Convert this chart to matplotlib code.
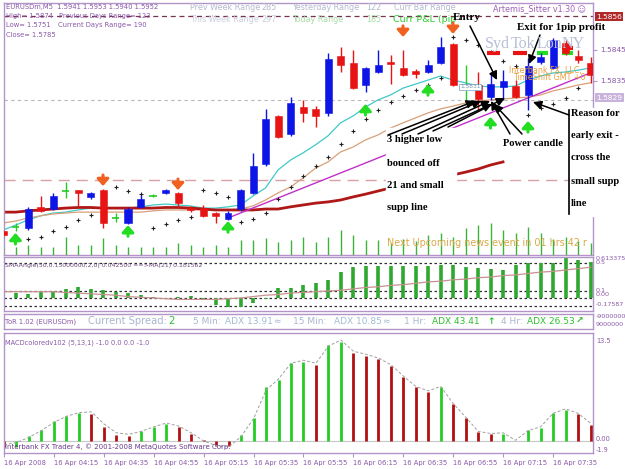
import matplotlib
matplotlib.use('Agg')
import matplotlib.pyplot as plt
import numpy as np
from matplotlib.patches import Rectangle

W, H = 625, 469

# ---------------- data ----------------
opens = [1.57866, 1.57879, 1.57876, 1.57944, 1.57937, 1.57995, 1.57998, 1.57976, 1.57998, 1.57908,
         1.57892, 1.57944, 1.57979, 1.57989, 1.57989, 1.57940, 1.57940, 1.57924, 1.57905, 1.57937,
         1.57989, 1.58082, 1.58237, 1.58179, 1.58266, 1.58260, 1.58247, 1.58431, 1.58408, 1.58337,
         1.58379, 1.58411, 1.58392, 1.58382, 1.58379, 1.58408, 1.58469, 1.58337, 1.58337, 1.58298,
         1.58331, 1.58334, 1.58305, 1.58411, 1.58392, 1.58473, 1.58431, 1.58408]
highs = [1.57873, 1.57892, 1.57944, 1.57979, 1.57989, 1.58024, 1.57998, 1.57992, 1.58000, 1.57924,
         1.57944, 1.57982, 1.57985, 1.58000, 1.57992, 1.57947, 1.57950, 1.57927, 1.57931, 1.58002,
         1.58118, 1.58260, 1.58240, 1.58298, 1.58289, 1.58269, 1.58440, 1.58460, 1.58450, 1.58395,
         1.58450, 1.58434, 1.58450, 1.58389, 1.58418, 1.58492, 1.58473, 1.58402, 1.58379, 1.58379,
         1.58385, 1.58353, 1.58424, 1.58440, 1.58489, 1.58482, 1.58450, 1.58427]
lows = [1.57844, 1.57866, 1.57869, 1.57927, 1.57934, 1.57973, 1.57944, 1.57969, 1.57876, 1.57895,
        1.57889, 1.57940, 1.57976, 1.57987, 1.57944, 1.57927, 1.57911, 1.57892, 1.57902, 1.57931,
        1.57985, 1.58076, 1.58166, 1.58173, 1.58218, 1.58202, 1.58237, 1.58379, 1.58324, 1.58315,
        1.58376, 1.58340, 1.58366, 1.58360, 1.58376, 1.58405, 1.58334, 1.58289, 1.58256, 1.58289,
        1.58289, 1.58295, 1.58256, 1.58405, 1.58389, 1.58434, 1.58408, 1.58344]
closes = [1.57853, 1.57879, 1.57937, 1.57931, 1.57979, 1.57995, 1.57989, 1.57989, 1.57892, 1.57908,
          1.57937, 1.57969, 1.57979, 1.57998, 1.57956, 1.57934, 1.57915, 1.57915, 1.57924, 1.57998,
          1.58076, 1.58227, 1.58169, 1.58279, 1.58247, 1.58237, 1.58421, 1.58402, 1.58327, 1.58392,
          1.58402, 1.58405, 1.58369, 1.58373, 1.58402, 1.58460, 1.58337, 1.58337, 1.58292, 1.58340,
          1.58350, 1.58298, 1.58398, 1.58427, 1.58482, 1.58440, 1.58418, 1.58369]

# moving averages, in pips above 1.5800
ma_fast = [-13.1, -11.5, -9.8, -8.5, -7.6, -7.3, -6.6, -6.0, -6.0, -6.0, -6.0, -5.6, -5.0, -4.7, -5.0, -5.3,
           -6.0, -6.0, -5.6, -5.0, -2.1, 0.5, 6.3, 9.5, 11.8, 14.4, 17.3, 21.5, 23.7, 26.6, 28.9, 30.5,
           32.7, 34.0, 35.3, 36.6, 35.3, 34.4, 33.4, 33.1, 33.1, 33.4, 35.3, 36.6, 37.6, 37.9, 38.5, 39.2]
ma_mid = [-10.8, -10.2, -9.2, -8.5, -7.9, -7.6, -7.3, -7.3, -7.3, -7.3, -7.3, -7.3, -6.9, -6.6, -6.6, -6.6,
          -6.6, -6.6, -6.6, -6.3, -5.3, -3.4, -1.1, 0.8, 3.7, 6.9, 8.9, 12.1, 13.7, 16.0, 17.6, 19.8,
          21.5, 23.1, 24.7, 26.0, 26.9, 27.9, 28.5, 28.9, 29.2, 29.5, 29.8, 30.5, 31.8, 32.7, 33.7, 34.4]
ma_slow = [-7.3, -7.3, -6.9, -6.6, -6.3, -6.0, -5.8, -5.8, -6.0, -6.0, -6.0, -6.0, -6.0, -5.8, -5.8, -6.0,
           -6.3, -6.6, -6.6, -6.6, -6.6, -6.3, -6.3, -5.6, -5.0, -4.4, -4.0, -3.4, -2.4, -1.5, -0.5, 0.5,
           1.1, 1.8, 2.7, 3.7, 4.7, 5.6, 6.6, 7.9, 8.9, np.nan, np.nan, np.nan, np.nan, np.nan, np.nan, np.nan]
psar = [np.nan, np.nan, -16.0, -15.3, -13.4, -12.1, -9.8, -8.2, np.nan, 0.8, -0.5, -1.5, -12.4, -11.1, -9.8, -8.9,
        -0.2, -1.1, -2.4, -10.5, -9.5, -7.6, -3.1, 0.8, 4.4, 7.6, 10.5, 14.7, 18.9, 22.7, 25.6, 28.2,
        30.2, 32.1, 33.7, 36.0, 49.2, 48.2, 46.6, 44.4, 41.5, 39.8, 24.0, 26.3, 27.6, 29.5, 32.7, np.nan]
volume = [8, 8, 10, 8, 8, 18, 10, 10, 17, 10, 8, 8, 8, 8, 12, 10, 8, 10, 8, 15, 15, 17, 13, 15,
          18, 13, 18, 25, 20, 15, 15, 12, 16, 14, 20, 22, 18, 27, 30, 32, 25, 22, 28, 22, 16, 18, 14, 12]

trend_bars = [18, 47]
trend_pips = [-9.2, 37.6]
up_arrow_bars = [1, 10, 18, 29, 34, 39, 42]
up_arrow_pips = [-14.0, -11.5, -10.2, 27.6, 34.0, 23.4, 22.1]
down_arrow_bars = [8, 14, 32, 36]
down_arrow_pips = [1.1, -0.2, 49.2, 50.2]
high_line = 1.5856
bid_line = 1.5829
pink_line = 1.58031

sma_angle = [0.09, 0.07, 0.06, 0.09, 0.10, 0.13, 0.16, 0.13, 0.11, 0.09, 0.07, 0.04, 0.01, -0.01, 0.01, 0.03,
             -0.01, -0.10, -0.13, -0.13, -0.07, -0.01, 0.14, 0.14, 0.19, 0.21, 0.26, 0.37, 0.44, 0.46, 0.46, 0.46,
             0.46, 0.46, 0.46, 0.47, 0.47, 0.44, 0.43, 0.41, 0.40, 0.47, 0.50, 0.50, 0.50, 0.57, 0.54, 0.51]
sma_ma = [0.09, 0.09, 0.09, 0.09, 0.09, 0.08, 0.07, 0.06, 0.05, 0.04, 0.02, 0.01, 0.0, -0.01, -0.02, -0.02,
          -0.02, -0.02, -0.01, 0.0, 0.02, 0.04, 0.05, 0.07, 0.08, 0.09, 0.10, 0.11, 0.13, 0.15, 0.16, 0.18,
          0.19, 0.21, 0.23, 0.24, 0.26, 0.27, 0.29, 0.30, 0.32, 0.33, 0.35, 0.37, 0.38, 0.40, 0.42, 0.44]
sma_levels = [0.5, 0.1, 0.0, -0.12]

macd = [-0.8, -0.8, 0.7, 1.5, 2.7, 3.4, 3.7, 3.65, 1.9, 0.8, 0.7, 1.4, 1.9, 2.3, 1.9, 1.0,
        0.1, -0.6, -0.7, 0.8, 3.1, 7.2, 8.1, 10.4, 10.5, 10.1, 12.8, 13.3, 11.7, 11.4, 10.9, 10.0,
        8.5, 7.2, 6.6, 7.2, 4.9, 3.1, 1.2, 0.9, 1.0, 0.05, 1.5, 1.8, 3.8, 4.1, 3.6, 2.2]
macd_up = [0, 1, 1, 1, 1, 1, 1, 0, 0, 0, 0, 1, 1, 1, 0, 0, 0, 0, 0, 1, 1, 1, 1, 1,
           1, 0, 1, 1, 0, 0, 0, 0, 0, 0, 0, 1, 0, 0, 0, 0, 1, 0, 1, 1, 1, 1, 0, 0]
macd_signal = [-0.5, -0.2, 0.5, 1.4, 2.5, 3.3, 3.8, 3.9, 2.3, 1.1, 0.9, 1.3, 1.9, 2.4, 2.0, 1.1,
               0.0, -0.6, -0.8, 0.6, 3.0, 6.8, 8.3, 10.4, 10.8, 10.4, 12.7, 13.5, 12.0, 11.6, 11.1, 10.2,
               8.7, 7.3, 6.7, 7.3, 5.0, 3.2, 1.3, 1.0, 1.1, 0.1, 1.4, 1.9, 3.7, 4.3, 3.7, 2.4]

time_labels = ['16 Apr 2008', '16 Apr 04:15', '16 Apr 04:35', '16 Apr 04:55', '16 Apr 05:15', '16 Apr 05:35',
               '16 Apr 05:55', '16 Apr 06:15', '16 Apr 06:35', '16 Apr 06:55', '16 Apr 07:15', '16 Apr 07:35']

# ---------------- figure ----------------
FRAME = '#b394c9'
PURP = '#8a58a8'

def rect(x0, y0, x1, y1):
    return [x0 / W, 1 - y1 / H, (x1 - x0) / W, (y1 - y0) / H]

def pip(v):
    return 1.58 + np.array(v, dtype=float) / 10000.0

fig = plt.figure(figsize=(W / 100, H / 100), dpi=100)
fig.patch.set_facecolor('white')

x = np.arange(len(opens))
XL = (0.08, 47.2)

ax = fig.add_axes(rect(4, 3, 593, 255))
ax_v = ax.twinx()
ax_s = fig.add_axes(rect(4, 257, 593, 311))
ax_t = fig.add_axes(rect(4, 314, 593, 329))
ax_m = fig.add_axes(rect(4, 333, 593, 453))

for a in (ax, ax_s, ax_t, ax_m):
    a.set_xlim(*XL)
    for sp in a.spines.values():
        sp.set_color(FRAME)
        sp.set_linewidth(1)
    a.set_xticks([])
    a.set_yticks([])

# ---- main price panel ----
ax.set_ylim(1.577887, 1.586016)
ax.axhline(high_line, color='#7a3050', lw=0.9, ls=(0, (4, 3)), zorder=1)
ax.axhline(bid_line, color='#b8b8b8', lw=0.8, ls=(0, (3, 3)), zorder=1)
ax.axhline(pink_line, color='#d9a0a8', lw=1.0, ls=(0, (8, 5)), zorder=1)

ax.plot(x, pip(ma_fast), color='#40c8c8', lw=0.9, zorder=2)
ax.plot(x, pip(ma_mid), color='#d8a078', lw=0.9, zorder=2)
ax.plot(x, pip(ma_slow), color='#b01818', lw=2.0, zorder=2)
ax.plot(trend_bars, pip(trend_pips), color='#c030c8', lw=1.0, zorder=2)
ax.plot(x, pip(psar), ls='none', marker='+', ms=2.5, mew=0.8, color='#202020', zorder=3)

for i in x:
    o, h, l, c = opens[i], highs[i], lows[i], closes[i]
    if c > o:
        col = '#0c14e6'
    elif c < o:
        col = '#e81414'
    else:
        col = '#22cc22'
    ax.vlines(i, l, h, color=col, lw=1, zorder=4)
    if c == o:
        ax.hlines(o, i - 0.3, i + 0.3, color=col, lw=1.2, zorder=4)
    else:
        ax.bar(i, c - o, bottom=o, width=0.56, color=col, edgecolor=col, lw=0.4, zorder=5)

for b, p in zip(up_arrow_bars, up_arrow_pips):
    ax.annotate('', xy=(b, pip(p)), xytext=(0, -8), textcoords='offset points',
                arrowprops=dict(arrowstyle='-|>,head_width=0.35,head_length=0.4', color='#22dd22',
                                lw=2.2, shrinkA=0, shrinkB=0), zorder=6)
for b, p in zip(down_arrow_bars, down_arrow_pips):
    ax.annotate('', xy=(b, pip(p)), xytext=(0, 8), textcoords='offset points',
                arrowprops=dict(arrowstyle='-|>,head_width=0.35,head_length=0.4', color='#f06020',
                                lw=2.2, shrinkA=0, shrinkB=0), zorder=6)

# session bars
ax.hlines(pip([44.0, 44.0]), [38.7, 40.8], [39.8, 41.9], color='#e81414', lw=3, zorder=3)
ax.hlines(pip([44.0, 44.0]), [42.7, 44.7], [43.6, 45.6], color='#22dd22', lw=3, zorder=3)
ax.hlines(pip([45.5]), [44.7], [45.6], color='#e81414', lw=3, zorder=3)

ax.yaxis.tick_right()
ax.set_yticks([1.5835, 1.5845])
ax.set_yticklabels(['1.5835', '1.5845'])
ax.tick_params(axis='y', left=False, labelleft=False, right=True, labelright=True,
               colors=FRAME, labelcolor=PURP, labelsize=5.4, length=3, width=0.8, pad=2)

ax_v.set_ylim(0, 252)
ax_v.vlines(x, 0, volume, color='#3cb43c', lw=1)
ax_v.set_yticks([])
for sp in ax_v.spines.values():
    sp.set_visible(False)

# ---- SMA angle panel ----
ax_s.set_ylim(-0.186, 0.586)
for lv in sma_levels:
    ax_s.axhline(lv, color='#303030', lw=0.9, ls=(0, (2, 2)), zorder=1)
ax_s.vlines(x, 0, sma_angle, color='#2fa82f', lw=2.6, zorder=2)
ax_s.plot(x, sma_ma, color='#c89090', lw=0.9, zorder=3)

# ---- MACD panel ----
ax_m.set_ylim(-1.6, 14.44)
ax_m.axhline(0, color='#c8c8c8', lw=0.8)
cols = ['#22cc22' if u else '#b01010' for u in macd_up]
ax_m.vlines(x, 0, macd, colors=cols, lw=2)
ax_m.plot(x, macd_signal, color='#a0a0a0', lw=0.7, ls=(0, (3, 2)))
ax_m.set_xticks(np.arange(0, 48, 4))
ax_m.set_xticklabels(time_labels, ha='left')
ax_m.tick_params(axis='x', colors=FRAME, labelcolor=PURP, labelsize=4.9, length=3, pad=2)

# ---------------- overlay: texts and annotations ----------------
ov = fig.add_axes([0, 0, 1, 1], zorder=10)
ov.set_xlim(0, W)
ov.set_ylim(H, 0)
ov.axis('off')
ov.patch.set_alpha(0)

# white boxes under the hand-written notes
ov.add_patch(Rectangle((386, 128), 70, 90, color='white', zorder=1))
ov.add_patch(Rectangle((570, 108), 55, 108, color='white', zorder=1))

def t(xp, yp, s, size=4.9, color=PURP, **kw):
    ov.text(xp, yp, s, fontsize=size, color=color, va='center', ha=kw.pop('ha', 'left'), zorder=5, **kw)

t(6, 7, 'EURUSDm,M5  1.5941 1.5953 1.5940 1.5952')
t(6, 16, 'High= 1.5874')
t(59, 16, 'Previous Days Range= 123')
t(6, 25, 'Low= 1.5751')
t(58, 25, 'Current Days Range= 190')
t(6, 35, 'Close= 1.5785')

LG = '#b2bacd'
t(190, 8, 'Prev Week Range', 5.8, LG)
t(261, 8, '285', 5.8, LG)
t(190, 19, 'This Week Range', 5.8, '#c8cede')
t(261, 19, '297', 5.8, '#c8cede')
t(292, 8, 'Yesterday Range', 5.8, LG)
t(366, 8, '122', 5.8, LG)
t(292, 19, 'Today Range', 5.8, '#a8dca8')
t(366, 19, '185', 5.8, '#a8dca8')
t(394, 8, 'Curr Bar Range', 5.8, LG)
t(393, 19, 'Curr P&L (pip', 6.8, '#2ecc2e')
t(586, 9, 'Artemis_Sitter v1.30 \u263a', 5.8, '#a060b8', ha='right')

for xp, w in zip([485, 511, 537, 562], ['Syd', 'Tok', 'Lon', 'NY']):
    t(xp, 44, w, 11.5, '#b8bed6', family='Liberation Serif')
t(509, 71, 'Interbank FX, LLC,', 5.8, '#e8a040')
t(513, 78, 'TimeShift GMT +0', 5.8, '#e8a040')
t(460, 87, '1.5831', 4.2, '#7090b0', bbox=dict(boxstyle='square,pad=0.15', fc='white', ec='#90b0d0', lw=0.6))

BK = dict(family='Liberation Serif', fontweight='bold')
t(453, 18, 'Entry', 8.0, 'black', **BK)
t(517, 27, 'Exit for 1pip profit', 7.8, 'black', **BK)
for yp, s in zip([140, 163, 185, 208], ['3 higher low', 'bounced off', '21 and small', 'supp line']):
    t(387, yp, s, 7.6, 'black', **BK)
t(503, 143, 'Power candle', 7.6, 'black', **BK)
for yp, s in zip([113, 136, 158, 182, 204], ['Reason for', 'early exit -', 'cross the', 'small supp', 'line']):
    t(571, yp, s, 7.6, 'black', **BK)

ov.plot([569, 569], [110, 214], color='black', lw=1.2, zorder=4)
arrow = dict(arrowstyle='-|>,head_width=0.25,head_length=0.5', color='black', lw=1.1, shrinkA=0, shrinkB=0)
for (x0, y0), (x1, y1) in [((470, 26), (497, 80)), ((540, 35), (529, 64)), ((569, 115), (533, 102)),
                           ((388, 135), (475, 101)), ((402, 134), (481, 101)), ((418, 134), (490, 101)),
                           ((433, 131), (492, 104)), ((448, 127), (505, 98)),
                           ((510, 134), (491, 101)), ((522, 134), (494, 104))]:
    ov.annotate('', xy=(x1, y1), xytext=(x0, y0), arrowprops=arrow, zorder=4)

t(387, 243, 'Next Upcoming news event in 01 hrs 42 r', 6.9, '#d8a848')

# right-hand labels
ov.text(596, 17, '1.5856', fontsize=5.4, color='white', va='center', zorder=5,
        bbox=dict(boxstyle='square,pad=0.2', fc='#b02828', ec='none'))
ov.text(596, 98, '1.5829', fontsize=5.4, color='white', va='center', zorder=5,
        bbox=dict(boxstyle='square,pad=0.2', fc='#c9b3dc', ec='none'))

t(5, 265, 'SMAAngle(50,0.15000000,2,0) 0.042500 ==>MA(21) 0.181562', 4.5, '#6a4a7a')
t(596, 259, '0.613375', 4.6)
t(596, 263, '0.5', 4.6)
t(596, 290, '0.1', 4.6)
t(596, 295, '0.00', 4.6)
t(596, 304, '-0.17587', 4.6)

ty = 321.5
t(5, ty, 'ToR 1.02 (EURUSDm)', 4.9)
t(88, ty, 'Current Spread:', 7.2, '#a8b6cf')
t(168, ty, '2', 7.2, '#2fbf2f')
t(193, ty, '5 Min:', 6.5, '#a8b6cf')
t(225, ty, 'ADX 13.91', 6.5, '#a0bcd6')
t(273, ty, '\u2248', 6.5, '#a8b6cf')
t(293, ty, '15 Min:', 6.5, '#a8b6cf')
t(334, ty, 'ADX 10.85', 6.5, '#a0bcd6')
t(382, ty, '\u2248', 6.5, '#a8b6cf')
t(404, ty, '1 Hr:', 6.5, '#a8b6cf')
t(432, ty, 'ADX 43.41', 6.5, '#2fbf2f')
t(487, ty, '\u2191', 6.5, '#2fbf2f', fontweight='bold')
t(501, ty, '4 Hr:', 6.5, '#a8b6cf')
t(527, ty, 'ADX 26.53', 6.5, '#2fbf2f')
t(576, ty, '\u2197', 6.5, '#2fbf2f', fontweight='bold')
t(596, 317, '-9000000', 4.6)
t(596, 325, '9000000', 4.6)

t(5, 343, 'MACDcoloredv102 (5,13,1) -1.0 0.0 0.0 -1.0', 4.8)
t(596, 341, '13.5', 4.8)
t(596, 439, '0.00', 4.8)
t(596, 450, '-1.9', 4.8)
t(5, 447, 'Interbank FX Trader 4, \u00a9 2001-2008 MetaQuotes Software Corp.', 5.0, '#6a3a8a')

fig.savefig('out.png', dpi=100)
